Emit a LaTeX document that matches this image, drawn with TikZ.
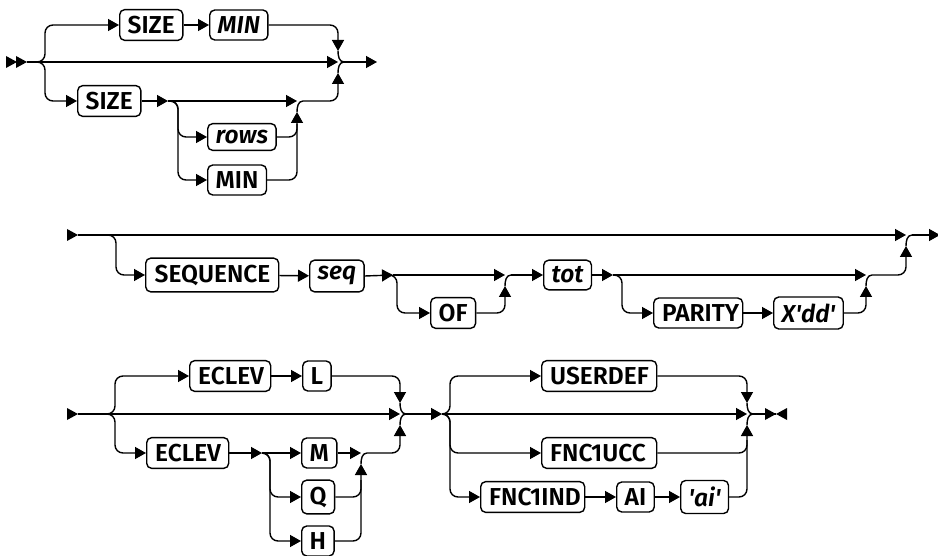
\documentclass[tikz,border=0pt]{standalone}
\usepackage{fontspec}
\setmainfont{Fira Sans}[BoldFont={Fira Sans SemiBold},BoldItalicFont={Fira Sans SemiBold Italic}]
\usetikzlibrary{arrows.meta}
\begin{document}
\begin{tikzpicture}[x=1pt,y=-1pt,line width=1.4pt,
 kw/.style={draw, rounded corners=5pt, line width=1.4pt, inner xsep=8pt, inner ysep=6.5pt,
   font=\fontsize{24.5}{28}\selectfont\bfseries, anchor=west, minimum width=#1},
 var/.style={kw=#1, font=\fontsize{24.5}{28}\selectfont\bfseries\itshape},
 lft/.style={text width=#1, align=left},
 arr/.style={-{Triangle[length=11pt,width=12pt]}},
 rc/.style={rounded corners=8pt},
 tri/.pic={\fill (-11,-6) -- (0,0) -- (-11,6) -- cycle;},
 ltri/.pic={\fill (11,-6) -- (0,0) -- (11,6) -- cycle;}]
\useasboundingbox (0,0) rectangle (938,556);

% ---------- section 1 ----------
\pic at (17,62) {tri};
\pic at (27,62) {tri};
\coordinate (a0) at (27,62);
\coordinate (a1) at (37,62);
\coordinate (a2) at (45,62);
\node[kw=59]  (size1) at (119,25) {SIZE};
\node[var=54] (min1)  at (209,25) {MIN};
\node[kw=59]  (size2) at (77,101) {SIZE};
\node[var=56] (rows)  at (207,137) {rows};
\node[kw=54]  (min2)  at (207,180) {MIN};
\coordinate (m1) at (338,62);
\coordinate (m1o) at (344,62);
\coordinate (m1t) at (338,51);
\coordinate (m1b) at (338,73);
\coordinate (b1) at (168,101);
\coordinate (b1a) at (170,101);
\coordinate (b1v) at (178,101);
\coordinate (j1) at (297,101);
\coordinate (j1b) at (297,112);
\coordinate (j1o) at (303,101);
\coordinate (e1) at (377,62);

\draw[arr] (a0) -- (m1);
\draw[rc,arr] (a1) -- (a2) |- (size1.west);
\draw[arr] (size1) -- (min1);
\draw[rc,arr] (min1.east) -| (m1t);
\draw (m1t) to[out=-90,in=180] (m1o);
\draw[rc,arr] (a1) -- (a2) |- (size2.west);
\draw[arr] (size2.east) -- (b1);
\draw[arr] (b1) -- (j1);
\draw[rc,arr] (b1a) -- (b1v) |- (rows.west);
\draw[rc,arr] (b1a) -- (b1v) |- (min2.west);
\draw[rc,arr] (min2.east) -| (j1b);
\draw[rc] (rows.east) -| (297,124);
\draw (j1b) to[out=90,in=180] (j1o);
\draw[rc,arr] (j1o) -| (m1b);
\draw (m1b) to[out=90,in=180] (m1o);
\draw[arr] (m1o) -- (e1);

% ---------- section 2 ----------
\pic at (78,235) {tri};
\coordinate (c0) at (78,235);
\coordinate (c1) at (108,235);
\coordinate (c2) at (116,235);
\node[kw=133,lft=115pt] (seqk) at (145,275) {SEQUENCE};
\node[var=50] (seqv) at (309,276) {seq};
\node[kw=42]  (of)   at (430,313) {OF};
\node[var=40] (tot)  at (543,275) {tot};
\node[kw=89,lft=72pt]  (par)  at (653,313) {PARITY};
\node[var=61] (xdd)  at (773,313) {X\textquotesingle dd\textquotesingle};
\coordinate (d1) at (393,275);
\coordinate (d1a) at (389,275);
\coordinate (d1v) at (397,275);
\coordinate (j2) at (505,275);
\coordinate (j2b) at (505,286);
\coordinate (j2o) at (511,275);
\coordinate (d2) at (613,275);
\coordinate (d2a) at (614,275);
\coordinate (d2v) at (622,275);
\coordinate (j3) at (866,275);
\coordinate (j3b) at (866,286);
\coordinate (j3o) at (872,275);
\coordinate (m2) at (906,235);
\coordinate (m2b) at (906,246);
\coordinate (m2o) at (912,235);
\coordinate (e2) at (940,235);

\draw[arr] (c0) -- (m2);
\draw[rc,arr] (c1) -- (c2) |- (seqk.west);
\draw[arr] (seqk) -- (seqv);
\draw[arr] (seqv.east) -- (d1);
\draw[arr] (d1) -- (j2);
\draw[rc,arr] (d1a) -- (d1v) |- (of.west);
\draw[rc,arr] (of.east) -| (j2b);
\draw (j2b) to[out=90,in=180] (j2o);
\draw[arr] (j2o) -- (tot.west);
\draw[arr] (tot.east) -- (d2);
\draw[arr] (d2) -- (j3);
\draw[rc,arr] (d2a) -- (d2v) |- (par.west);
\draw[arr] (par) -- (xdd);
\draw[rc,arr] (xdd.east) -| (j3b);
\draw (j3b) to[out=90,in=180] (j3o);
\draw[rc,arr] (j3o) -| (m2b);
\draw (m2b) to[out=90,in=180] (m2o);
\draw[arr] (m2o) -- (e2);

% ---------- section 3 ----------
\pic at (78,414) {tri};
\coordinate (f0) at (78,414);
\coordinate (f1) at (107,414);
\coordinate (f2) at (115,414);
\node[kw=81,lft=64pt] (ec1) at (189,376) {ECLEV};
\node[kw=25] (L)   at (302,376) {L};
\node[kw=82,lft=65pt] (ec2) at (146,453) {ECLEV};
\node[kw=29] (M)   at (301,453) {M};
\node[kw=29] (Q)   at (301,497) {Q};
\node[kw=29] (H)   at (301,541) {H};
\coordinate (g1) at (262,453);
\coordinate (g1v) at (270,453);
\coordinate (j4) at (361,453);
\coordinate (j4b) at (361,464);
\coordinate (j4o) at (367,453);
\coordinate (m3) at (400,414);
\coordinate (m3t) at (400,403);
\coordinate (m3b) at (400,425);
\coordinate (m3o) at (406,414);
\coordinate (h1) at (442,414);
\coordinate (h1v) at (450,414);

\draw[arr] (f0) -- (m3);
\draw[rc,arr] (f1) -- (f2) |- (ec1.west);
\draw[arr] (ec1) -- (L);
\draw[rc,arr] (L.east) -| (m3t);
\draw (m3t) to[out=-90,in=180] (m3o);
\draw[rc,arr] (f1) -- (f2) |- (ec2.west);
\draw[arr] (ec2.east) -- (g1);
\draw[arr] (g1) -- (M.west);
\draw[rc,arr] (g1) -- (g1v) |- (Q.west);
\draw[rc,arr] (g1) -- (g1v) |- (H.west);
\draw[arr] (M.east) -- (j4);
\draw[rc,arr] (H.east) -| (j4b);
\draw[rc] (Q.east) -| (361,480);
\draw (j4b) to[out=90,in=180] (j4o);
\draw[rc,arr] (j4o) -| (m3b);
\draw (m3b) to[out=90,in=180] (m3o);
\draw[arr] (m3o) -- (h1);

% ---------- section 4 ----------
\node[kw=115,lft=98pt] (ud) at (541,376) {USERDEF};
\node[kw=115,lft=98pt] (fu) at (541,453) {FNC1UCC};
\node[kw=104,lft=87pt] (fi) at (480,497) {FNC1IND};
\node[kw=33]  (ai) at (616,497) {AI};
\node[var=36] (aiv) at (680,497) {\textquotesingle ai\textquotesingle};
\coordinate (m4) at (747,414);
\coordinate (m4t) at (747,403);
\coordinate (m4b) at (747,425);
\coordinate (m4o) at (753,414);
\coordinate (e4) at (776,414);

\draw[arr] (h1) -- (m4);
\draw[rc,arr] (h1) -- (h1v) |- (ud.west);
\draw[rc,arr] (ud.east) -| (m4t);
\draw (m4t) to[out=-90,in=180] (m4o);
\draw[rc,arr] (h1) -- (h1v) |- (fu.west);
\draw[rc,arr] (fu.east) -| (m4b);
\draw (m4b) to[out=90,in=180] (m4o);
\draw[rc,arr] (h1) -- (h1v) |- (fi.west);
\draw[arr] (fi) -- (ai);
\draw[arr] (ai) -- (aiv);
\draw[rc] (aiv.east) -| (747,440);
\draw (m4o) -- (e4);
\pic at (e4) {tri};
\pic at (e4) {ltri};
\end{tikzpicture}
\end{document}
